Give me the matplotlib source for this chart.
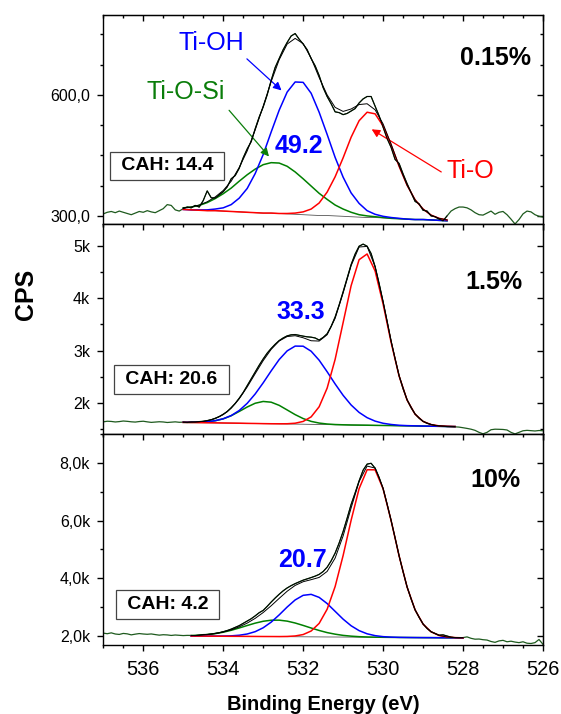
import numpy as np
import matplotlib
matplotlib.use("Agg")
import matplotlib.pyplot as plt
from matplotlib.ticker import MultipleLocator, FuncFormatter

plt.rcParams['font.family'] = ['Liberation Sans', 'DejaVu Sans']

# energia dos espectros medidos (537 -> 526 eV, passo 0.1)
energia = np.round(np.arange(537.0, 525.95, -0.1), 1)

# espectros medidos (CPS)
raw_015 = [305, 309, 311, 308, 312, 309, 306, 303, 307, 311, 309, 313, 310, 308, 313, 318, 328, 326, 315, 312,
           318, 322, 320, 326, 322, 338, 362, 345, 344, 352,
           360, 372, 392, 400, 418, 444, 466, 484, 516, 545,
           570, 600, 636, 668, 690, 712, 730, 746, 752, 738,
           726, 712, 690, 672, 648, 618, 596, 578, 558, 556,
           551, 554, 560, 566, 580, 590, 596, 596, 572, 548,
           520, 492, 470, 440, 430, 404, 380, 358, 336, 330,
           314, 312, 300, 298, 292, 288, 300,
           312, 318, 322, 322, 320, 315, 308, 303, 302, 307, 312, 304, 309, 311, 303, 292, 280, 291, 305, 312,
           310, 303, 299, 297]
raw_15 = [1640, 1652, 1648, 1638, 1645, 1656, 1650, 1641, 1636, 1646, 1652, 1640, 1630, 1636, 1642, 1638, 1628,
          1634, 1640, 1632,
          1634, 1628, 1638, 1636, 1645, 1650, 1664, 1680, 1708, 1740,
          1785, 1835, 1910, 1990, 2090, 2200, 2330, 2460, 2590, 2720,
          2840, 2950, 3040, 3120, 3190, 3240, 3280, 3300, 3305, 3290,
          3275, 3262, 3255, 3240, 3200, 3250, 3320, 3460, 3640, 3870,
          4120, 4380, 4640, 4840, 4990, 5030, 4990, 4850, 4600, 4280,
          3930, 3560, 3180, 2840, 2520, 2270, 2060, 1910, 1790, 1710,
          1650, 1612, 1590, 1570, 1562, 1556, 1550, 1548, 1545,
          1540, 1528, 1515, 1500, 1478, 1440, 1412, 1440, 1490, 1500, 1498, 1495, 1485, 1440, 1410, 1440, 1470,
          1478, 1472, 1466, 1475, 1470]
raw_10 = [2090, 2070, 2100, 2060, 2045, 2080, 2065, 2030, 2055, 2075, 2060, 2050, 2062, 2040, 2020, 2035, 2028,
          2010, 2025, 2015, 2005, 2012,
          2010, 2005, 2020, 2040, 2045, 2060, 2082, 2105, 2140, 2180,
          2230, 2290, 2350, 2430, 2510, 2590, 2690, 2800, 2880, 3020,
          3170, 3310, 3440, 3560, 3660, 3740, 3810, 3870, 3930, 3975,
          4020, 4070, 4130, 4230, 4380, 4600, 4870, 5220, 5620, 6080,
          6560, 6960, 7380, 7750, 7960, 7990, 7820, 7500, 7100, 6570,
          6000, 5400, 4780, 4220, 3700, 3280, 2900, 2640, 2410, 2250,
          2140, 2080, 2020, 2030, 1990, 1950, 1935, 1930, 1935,
          1960, 1910, 1880, 1885, 1862, 1850, 1800, 1770, 1820, 1840, 1790, 1810, 1780, 1760, 1790, 1740, 1730,
          1760, 1870, 1700]

# ajuste: grade de energia, linha de base e componentes (acima da linha de base)
fit_E_015 = np.round(np.arange(535.0, 528.35, -0.2), 1)
bg_015 = [316, 315, 314, 313, 313, 312, 311, 310, 309, 308, 307, 307, 306, 305, 304, 303, 302, 301, 301, 300,
          299, 298, 297, 296, 296, 295, 294, 293, 292, 291, 291, 290, 289, 288]
tiosi_015 = [4, 7, 12, 20, 30, 43, 58, 76, 93, 108, 120, 125, 125, 118, 105, 89, 72, 55, 40, 27, 18, 11, 6, 4, 2,
             1, 0, 0, 0, 0, 0, 0, 0, 0]
tioh_015 = [0, 0, 1, 2, 4, 8, 17, 34, 59, 97, 145, 201, 256, 302, 328, 328, 302, 256, 201, 145, 97, 59, 34, 17, 8,
            4, 2, 1, 0, 0, 0, 0, 0, 0]
tio_015 = [0, 0, 0, 0, 0, 0, 0, 0, 0, 0, 0, 0, 0, 1, 3, 7, 15, 31, 58, 97, 145, 197, 239, 261, 257, 228, 182, 130,
           84, 49, 26, 12, 5, 2]

fit_E_15 = np.round(np.arange(535.0, 528.15, -0.2), 1)
bg_15 = [1630, 1628, 1625, 1623, 1621, 1618, 1616, 1614, 1611, 1609, 1606, 1604, 1602, 1599, 1597, 1595, 1592,
         1590, 1588, 1585, 1583, 1580, 1578, 1576, 1573, 1571, 1569, 1566, 1564, 1562, 1559, 1557, 1555, 1552, 1550]
tiosi_15 = [1, 2, 7, 17, 40, 79, 141, 224, 312, 386, 423, 411, 353, 268, 181, 108, 57, 27, 11, 4, 1,
            0, 0, 0, 0, 0, 0, 0, 0, 0, 0, 0, 0, 0, 0]
tioh_15 = [2, 4, 9, 21, 42, 81, 144, 242, 382, 563, 778, 1008, 1226, 1395, 1488, 1488, 1395, 1226, 1008, 778, 563,
           382, 242, 144, 81, 42, 21, 9, 4, 2, 1, 0, 0, 0, 0]
tio_15 = [0, 0, 0, 0, 0, 0, 0, 0, 0, 0, 0, 0, 1, 5, 17, 53, 143, 338, 695, 1247, 1951, 2657, 3155, 3266, 2945,
          2316, 1588, 948, 492, 224, 89, 31, 9, 3, 1]

fit_E_10 = np.round(np.arange(534.8, 527.95, -0.2), 1)
bg_10 = [1990, 1988, 1986, 1984, 1982, 1980, 1979, 1977, 1975, 1973, 1971, 1969, 1967, 1965, 1963, 1961, 1959,
         1957, 1956, 1954, 1952, 1950, 1948, 1946, 1944, 1942, 1940, 1938, 1936, 1934, 1933, 1931, 1929, 1927, 1925]
tiosi_10 = [15, 29, 52, 88, 140, 208, 290, 378, 462, 529, 568, 572, 540, 477, 395, 307, 224, 152, 98, 58, 33, 17,
            9, 4, 2, 1, 0, 0, 0, 0, 0, 0, 0, 0, 0]
tioh_10 = [0, 0, 1, 2, 6, 16, 38, 83, 166, 303, 501, 754, 1030, 1278, 1440, 1476, 1373, 1161, 891, 622, 394, 227,
           119, 57, 24, 10, 3, 1, 0, 0, 0, 0, 0, 0, 0]
tio_10 = [0, 0, 0, 0, 0, 0, 0, 0, 0, 0, 1, 2, 8, 27, 78, 203, 469, 963, 1752, 2833, 4059, 5160, 5817, 5817, 5160,
          4059, 2833, 1752, 963, 469, 203, 78, 27, 8, 2]

amostras = ['0.15%', '1.5%', '10%']
cah = ['CAH: 14.4', 'CAH: 20.6', 'CAH: 4.2']
frac_tioh = ['49.2', '33.3', '20.7']

fmt_015 = FuncFormatter(lambda v, p: f"{v:.1f}".replace('.', ','))
fmt_15 = FuncFormatter(lambda v, p: f"{v / 1000:.0f}k")
fmt_10 = FuncFormatter(lambda v, p: f"{v / 1000:.1f}k".replace('.', ','))

paineis = [
    dict(raw=raw_015, E=fit_E_015, bg=bg_015, g=tiosi_015, b=tioh_015, r=tio_015, ylim=(280, 798),
         major=300, minor=75, fmt=fmt_015, pos=[0.1841, 0.6863, 0.7838, 0.2927],
         tag=(0.891, 0.794), frac=(0.445, 0.373), box=(0.145, 0.278)),
    dict(raw=raw_15, E=fit_E_15, bg=bg_15, g=tiosi_15, b=tioh_15, r=tio_15, ylim=(1409, 5414),
         major=1000, minor=500, fmt=fmt_15, pos=[0.1841, 0.3922, 0.7838, 0.2941],
         tag=(0.888, 0.724), frac=(0.450, 0.581), box=(0.155, 0.260)),
    dict(raw=raw_10, E=fit_E_10, bg=bg_10, g=tiosi_10, b=tioh_10, r=tio_10, ylim=(1677, 9008),
         major=2000, minor=1000, fmt=fmt_10, pos=[0.1841, 0.0966, 0.7838, 0.2956],
         tag=(0.891, 0.782), frac=(0.452, 0.403), box=(0.146, 0.192)),
]

verde_escuro = '#1e5a1e'
fig = plt.figure(figsize=(5.61, 7.14), dpi=100)

axes = []
for k, p in enumerate(paineis):
    ax = fig.add_axes(p['pos'])
    axes.append(ax)
    raw = np.array(p['raw'], dtype=float)
    E = p['E']
    bg = np.array(p['bg'], dtype=float)
    g = np.array(p['g'], dtype=float)
    b = np.array(p['b'], dtype=float)
    r = np.array(p['r'], dtype=float)
    env = bg + g + b + r

    ax.plot(energia, raw, color=verde_escuro, lw=0.9, zorder=2)
    m = (energia <= E[0] + 1e-6) & (energia >= E[-1] - 1e-6)
    ax.plot(E, bg, color='#555555', lw=0.6, zorder=3)
    ax.plot(E, bg + g, color='#008000', lw=1.1, zorder=3)
    ax.plot(E, bg + b, color='#0000ff', lw=1.1, zorder=3)
    ax.plot(E, bg + r, color='#ff0000', lw=1.1, zorder=3)
    ax.plot(energia[m], raw[m], color='black', lw=0.7, zorder=4)
    ax.plot(E, env, color='black', lw=0.7, zorder=4)

    ax.set_xlim(537, 526)
    ax.set_ylim(*p['ylim'])
    ax.xaxis.set_major_locator(MultipleLocator(2))
    ax.xaxis.set_minor_locator(MultipleLocator(0.5))
    ax.yaxis.set_major_locator(MultipleLocator(p['major']))
    ax.yaxis.set_minor_locator(MultipleLocator(p['minor']))
    ax.yaxis.set_major_formatter(p['fmt'])
    ax.tick_params(which='both', direction='out', width=1.0, top=False, right=False)
    ax.tick_params(which='major', length=4.5)
    ax.tick_params(which='minor', length=2.5)
    ax.tick_params(axis='x', labelsize=14.4, pad=6)
    ax.tick_params(axis='y', labelsize=11.5, pad=5)
    if k < 2:
        ax.tick_params(labelbottom=False)
    for s in ax.spines.values():
        s.set_linewidth(1.0)

    # ticks espelhados (para dentro) no topo e na direita
    sx = ax.secondary_xaxis('top')
    sx.xaxis.set_major_locator(MultipleLocator(2))
    sx.xaxis.set_minor_locator(MultipleLocator(0.5))
    sx.tick_params(which='both', direction='in', width=1.0, labeltop=False)
    sx.tick_params(which='major', length=4.5)
    sx.tick_params(which='minor', length=2.5)
    sy = ax.secondary_yaxis('right')
    sy.yaxis.set_major_locator(MultipleLocator(p['major']))
    sy.yaxis.set_minor_locator(MultipleLocator(p['minor']))
    sy.tick_params(which='both', direction='in', width=1.0, labelright=False)
    sy.tick_params(which='major', length=4.5)
    sy.tick_params(which='minor', length=2.5)

    ax.text(*p['tag'], amostras[k], transform=ax.transAxes, ha='center', va='center',
            fontsize=18, fontweight='bold')
    ax.text(*p['frac'], frac_tioh[k], transform=ax.transAxes, ha='center', va='center',
            fontsize=18, fontweight='bold', color='#0000ff', zorder=6)
    ax.text(*p['box'], ' ' + cah[k] + ' ', transform=ax.transAxes, ha='center', va='center',
            fontsize=14, fontweight='bold', zorder=6,
            bbox=dict(boxstyle='square,pad=0.3', fc='white', ec='#444444', lw=0.9))

# rótulos das componentes no painel de cima
ax0 = axes[0]
ax0.text(0.245, 0.866, 'Ti-OH', transform=ax0.transAxes, ha='center', va='center', fontsize=18, color='#0000ff')
ax0.text(0.188, 0.632, 'Ti-O-Si', transform=ax0.transAxes, ha='center', va='center', fontsize=18,
         color='#0a7d0a')
ax0.text(0.834, 0.254, 'Ti-O', transform=ax0.transAxes, ha='center', va='center', fontsize=18, color='#ff0000')
ax0.annotate('', xy=(0.410, 0.630), xytext=(0.322, 0.799), xycoords='axes fraction',
             arrowprops=dict(arrowstyle='-|>', color='#0000ff', lw=0.9, mutation_scale=12))
ax0.annotate('', xy=(0.381, 0.313), xytext=(0.282, 0.554), xycoords='axes fraction',
             arrowprops=dict(arrowstyle='-|>', color='#0a7d0a', lw=0.9, mutation_scale=12))
ax0.annotate('', xy=(0.605, 0.460), xytext=(0.774, 0.242), xycoords='axes fraction',
             arrowprops=dict(arrowstyle='-|>', color='#ff0000', lw=0.9, mutation_scale=12))

fig.text(0.046, 0.588, 'CPS', rotation=90, ha='center', va='center', fontsize=18, fontweight='bold')
fig.text(0.576, 0.013, 'Binding Energy (eV)', ha='center', va='center', fontsize=14.5, fontweight='bold')

fig.savefig('out.png', dpi=100)
